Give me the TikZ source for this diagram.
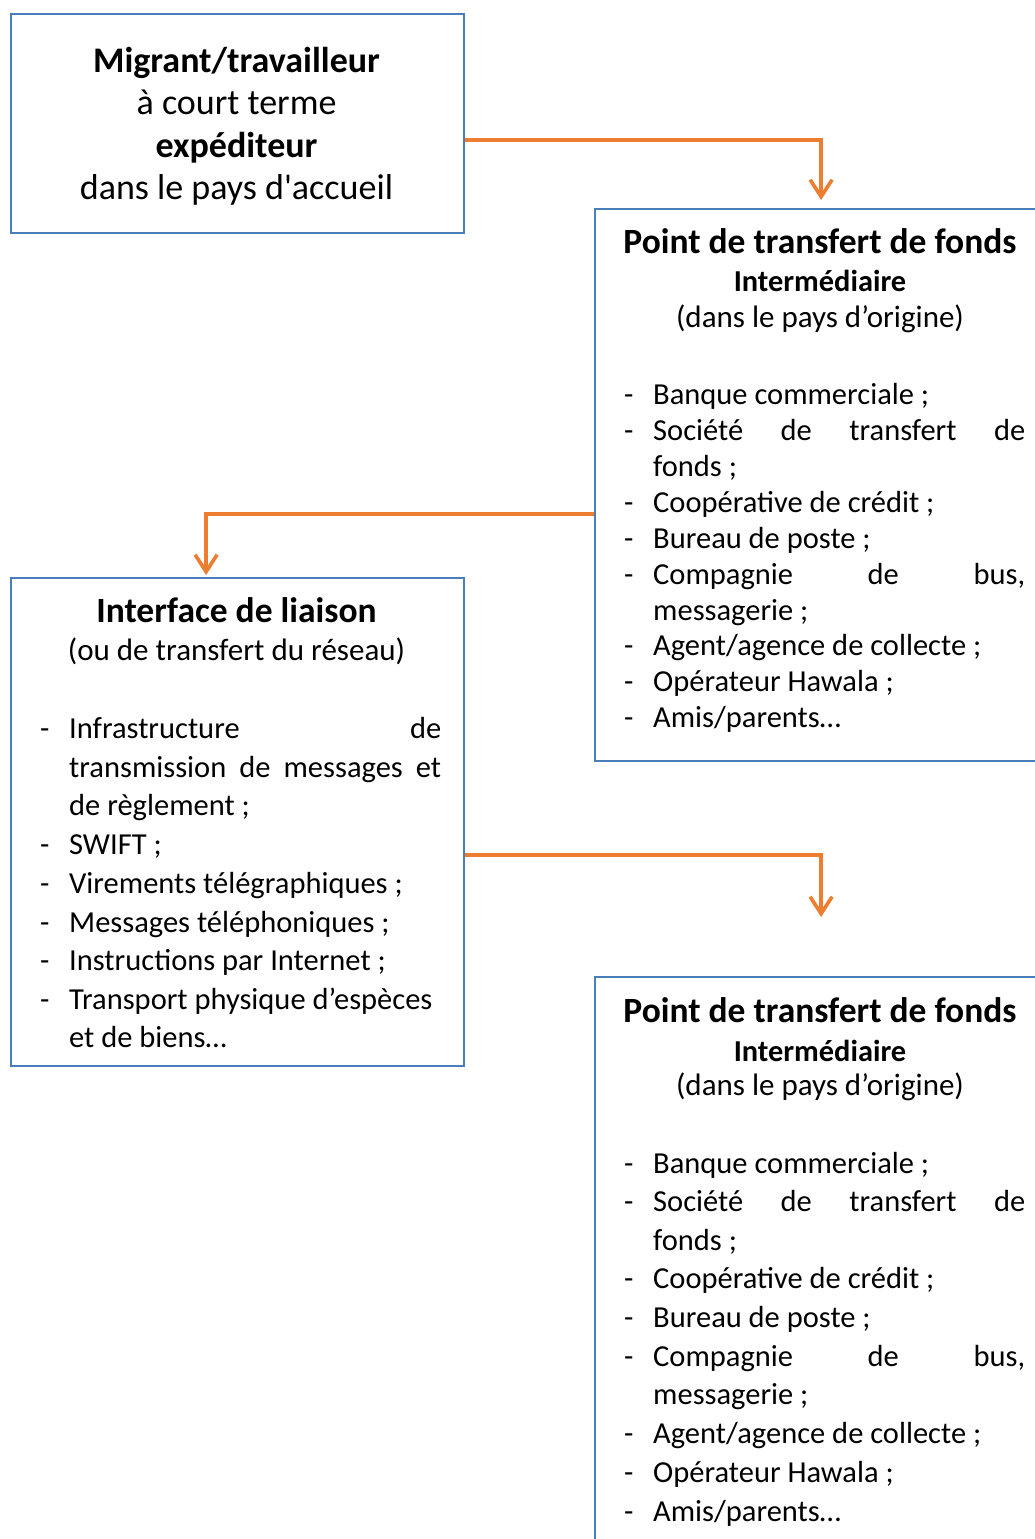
\documentclass[tikz,border=0pt]{standalone}
\usepackage{fontspec}
\setmainfont{Carlito}
\usetikzlibrary{arrows.meta}
\definecolor{boxblue}{HTML}{4A7EBB}
\definecolor{arrorange}{HTML}{ED7D31}
\newcommand\jline[2]{\hbox to #1{#2}}
\begin{document}
\begin{tikzpicture}[x=1pt,y=-1pt,
  box/.style={draw=boxblue,line width=2.2pt,anchor=north west,inner sep=0pt},
  conn/.style={draw=arrorange,line width=3.6pt,-{Straight Barb[length=17pt,width=22pt,line width=3.6pt]}},
  big/.style={inner sep=0pt,anchor=base,font=\fontsize{36}{40}\selectfont},
  bigb/.style={inner sep=0pt,anchor=base,font=\bfseries\fontsize{36}{40}\selectfont},
  txt/.style={inner sep=0pt,anchor=base,font=\fontsize{31}{36}\selectfont},
  ttl/.style={inner sep=0pt,anchor=base,font=\bfseries\fontsize{35.5}{40}\selectfont},
  sub/.style={inner sep=0pt,anchor=base,font=\bfseries\fontsize{30.4}{34}\selectfont},
  itm/.style={inner sep=0pt,anchor=base west,font=\fontsize{30.5}{36}\selectfont}]
\useasboundingbox (0,0) rectangle (1035,1539);
\clip (0,0) rectangle (1035,1539);
% boxes
\node[box,minimum width=453pt,minimum height=219pt] (b1) at (10,13) {};
\node[box,minimum width=452pt,minimum height=552pt] (b2) at (594,208) {};
\node[box,minimum width=453pt,minimum height=488pt] (b3) at (10,577) {};
\node[box,minimum width=452pt,minimum height=620pt] (b4) at (594,976) {};
\begin{scope}[yshift=-2pt]
% box 1 text
\node[bigb] (t1a) at (236.5,70) {Migrant/travailleur};
\node[big] (t1b) at (236.5,112) {à court terme};
\node[bigb] (t1c) at (236.5,155) {expéditeur};
\node[big] (t1d) at (236.5,197) {dans le pays d\textquotesingle accueil};
% box 2 text
\node[ttl] (t2a) at (820,251) {Point de transfert de fonds};
\node[sub] (t2b) at (820,289) {Intermédiaire};
\node[txt] (t2c) at (820,325) {(dans le pays d’origine)};
\foreach \y/\d/\t [count=\i] in {
  402/-/{Banque commerciale~;},
  438/-/{\jline{372pt}{Société\hfill de\hfill transfert\hfill de}},
  474/{}/{fonds~;},
  510/-/{Coopérative de crédit~;},
  546/-/{Bureau de poste~;},
  582/-/{\jline{372pt}{Compagnie\hfill de\hfill bus,}},
  618/{}/{messagerie~;},
  653/-/{Agent/agence de collecte~;},
  689/-/{Opérateur Hawala~;},
  725/-/{Amis/parents…}}
{
  \node[itm] (d2-\i) at (624,\y) {\d};
  \node[itm] (l2-\i) at (653,\y) {\t};
}
% box 3 text
\node[ttl] (t3a) at (236.5,620) {Interface de liaison};
\node[txt] (t3b) at (236.5,658) {(ou de transfert du réseau)};
\foreach \y/\d/\t [count=\i] in {
  736/-/{\jline{372pt}{Infrastructure\hfill de}},
  775/{}/{\jline{372pt}{transmission\hfill de\hfill messages\hfill et}},
  813/{}/{de règlement~;},
  852/-/{SWIFT~;},
  891/-/{Virements télégraphiques~;},
  930/-/{Messages téléphoniques~;},
  968/-/{Instructions par Internet~;},
  1007/-/{Transport physique d’espèces},
  1045/{}/{et de biens…}}
{
  \node[itm] (d3-\i) at (40,\y) {\d};
  \node[itm] (l3-\i) at (69,\y) {\t};
}
% box 4 text
\node[ttl] (t4a) at (820,1020) {Point de transfert de fonds};
\node[sub] (t4b) at (820,1059) {Intermédiaire};
\node[txt] (t4c) at (820,1093) {(dans le pays d’origine)};
\foreach \y/\d/\t [count=\i] in {
  1171/-/{Banque commerciale~;},
  1209/-/{\jline{372pt}{Société\hfill de\hfill transfert\hfill de}},
  1248/{}/{fonds~;},
  1286/-/{Coopérative de crédit~;},
  1325/-/{Bureau de poste~;},
  1364/-/{\jline{372pt}{Compagnie\hfill de\hfill bus,}},
  1402/{}/{messagerie~;},
  1441/-/{Agent/agence de collecte~;},
  1480/-/{Opérateur Hawala~;},
  1519/-/{Amis/parents…}}
{
  \node[itm] (d4-\i) at (624,\y) {\d};
  \node[itm] (l4-\i) at (653,\y) {\t};
}
\end{scope}
% connectors
\draw[conn] ([yshift=-16.5pt]b1.east) -| ([yshift=8pt]b2.north);
\draw[conn] ([yshift=-29pt]b2.west) -| ([xshift=-31.5pt,yshift=2pt]b3.north);
\draw[conn] ([yshift=-33pt]b3.east) -| ([yshift=59pt]b4.north);
\end{tikzpicture}
\end{document}
